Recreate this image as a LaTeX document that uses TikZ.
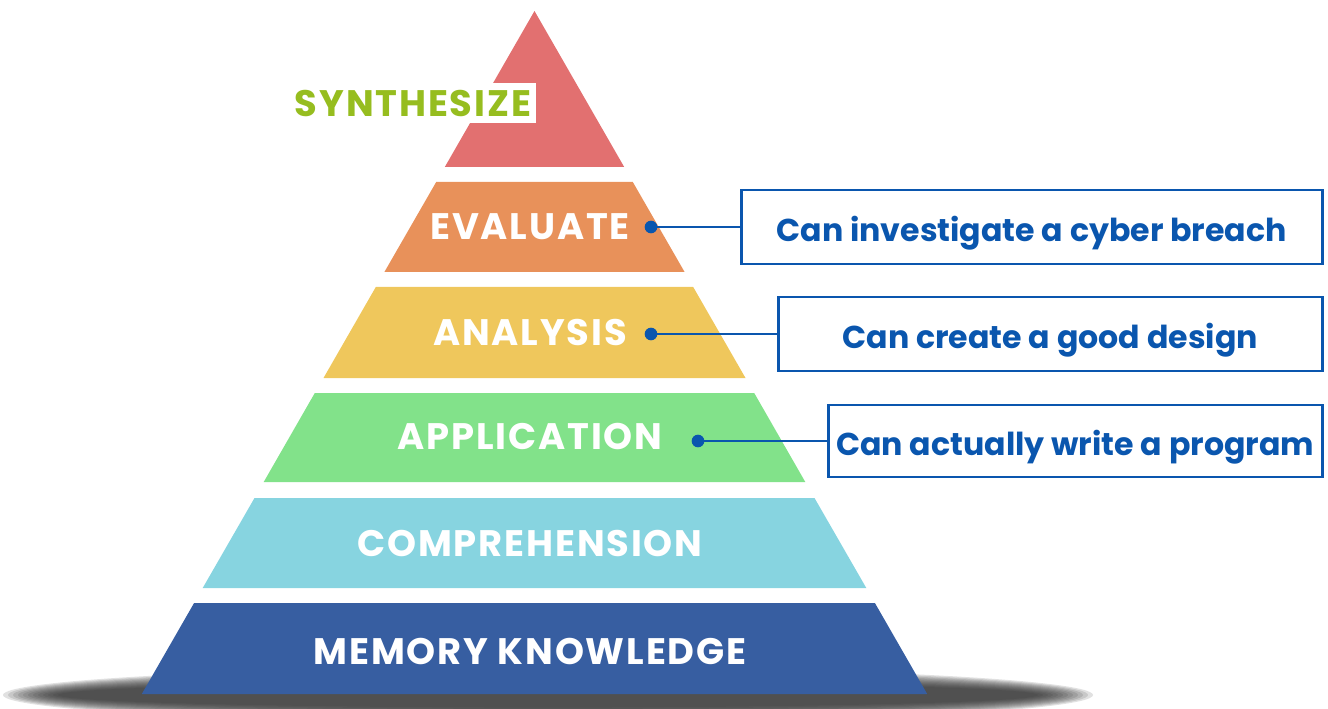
\documentclass[tikz,border=0pt]{standalone}
\usepackage{fontspec}
\setmainfont{Poppins}
\usetikzlibrary{
    calc,
    positioning
}
\definecolor{synthred}{HTML}{E27070}
\definecolor{evalorange}{HTML}{E8915A}
\definecolor{analyellow}{HTML}{EFC75C}
\definecolor{applgreen}{HTML}{82E28A}
\definecolor{compcyan}{HTML}{87D4E0}
\definecolor{memblue}{HTML}{375EA1}
\definecolor{synthgreen}{HTML}{96BD1F}
\definecolor{linkblue}{HTML}{0A56AE}
\definecolor{shadowgray}{HTML}{2E2E2E}
\tikzset{
    every picture/.style = {
        thick
    },
    level/.style = {
        text = white,
        font = \bfseries\fontsize{21}{25}\selectfont\addfontfeature{LetterSpace=5},
        inner sep = 0pt
    },
    dot/.style = {
        circle,
        fill = linkblue,
        inner sep = 0pt,
        outer sep = 0pt,
        minimum size = 7.2pt
    },
    link/.style = {
        draw = linkblue,
        line width = 1.7pt
    },
    skillbox/.style = {
        draw = linkblue,
        line width = 1.5pt,
        text = linkblue,
        font = \bfseries\fontsize{18}{22}\selectfont,
        inner sep = 0pt,
        outer sep = 0pt,
        text height = 17pt,
        text depth = 0pt,
        minimum height = 1.48cm
    }
}

\begin{document}
\begin{tikzpicture}[
                        x = 0.02cm,
                        y = -0.02cm
                    ]
                        \useasboundingbox (0,0) rectangle (1328,709);

                        % shadow under the base
                        \foreach \i in {0,...,11}
                            \fill[shadowgray, opacity = 0.14]
                                (548,695) ellipse ({545 - 5*\i} and {28 - 1.4*\i});

                        % layers of the pyramid
                        \fill[synthred] (534.5,11) -- (624.2,167) -- (444.8,167) -- cycle;
                        \fill[evalorange] (436.2,182) -- (632.8,182) -- (684.6,272) -- (384.4,272) -- cycle;
                        \fill[analyellow] (375.8,287) -- (693.2,287) -- (745.5,378) -- (323.5,378) -- cycle;
                        \fill[applgreen] (314.8,393) -- (754.2,393) -- (805.3,482) -- (263.7,482) -- cycle;
                        \fill[compcyan] (254.5,498) -- (814.5,498) -- (866.3,588) -- (202.7,588) -- cycle;
                        \fill[memblue] (194.1,603) -- (874.9,603) -- (927.2,694) -- (141.8,694) -- cycle;

                        \node[level, text = synthgreen, fill = white, anchor = east,
                              inner xsep = 3pt, minimum height = 0.8cm] (synth) at (537,103) {SYNTHESIZE};
                        \node[level] (eval) at (530,227) {EVALUATE};
                        \node[level] (anal) at (530,332) {ANALYSIS};
                        \node[level] (appl) at (530,436) {APPLICATION};
                        \node[level] (comp) at (530,543) {COMPREHENSION};
                        \node[level] (mem) at (530,651) {MEMORY KNOWLEDGE};

                        \node[dot] (evaldot) at (651,227) {};
                        \node[dot] (analdot) at (651,334) {};
                        \node[dot] (appldot) at (698,441) {};

                        \node[skillbox, minimum width = 11.62cm] (evalbox) [right = 1.68cm of evaldot] {Can investigate a cyber breach};
                        \node[skillbox, minimum width = 10.88cm] (analbox) [right = 2.42cm of analdot] {Can create a good design};
                        \node[skillbox, minimum width = 9.88cm, minimum height = 1.44cm] (applbox) [right = 2.48cm of appldot] {Can actually write a program};

                        \draw[link] (evaldot) -- (evaldot -| evalbox.west);
                        \draw[link] (analdot) -- (analdot -| analbox.west);
                        \draw[link] (appldot) -- (appldot -| applbox.west);
                    \end{tikzpicture}
\end{document}
